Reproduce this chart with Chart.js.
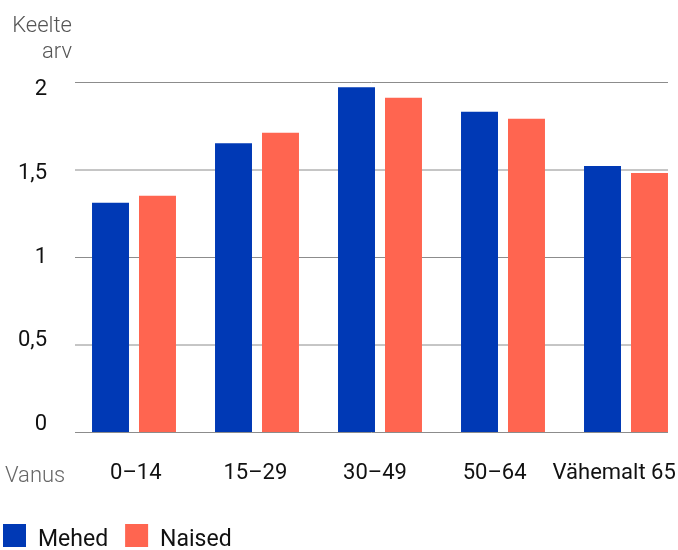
<!DOCTYPE html>
<html>
<head>
<meta charset="utf-8">
<script src="https://cdn.jsdelivr.net/npm/chart.js@4/dist/chart.umd.min.js"></script>
<style>html,body{margin:0;padding:0;background:#fff;overflow:hidden}canvas{display:block}</style>
</head>
<body>
<canvas id="c" width="678" height="550"></canvas>
<script>
// ---- data ----
const categories = ['0–14', '15–29', '30–49', '50–64', 'Vähemalt 65'];
const mehed = [1.31, 1.65, 1.97, 1.83, 1.52];
const naised = [1.35, 1.71, 1.91, 1.79, 1.48];
const yTickValues = [0, 0.5, 1, 1.5, 2];
const yTickLabels = ['0', '0,5', '1', '1,5', '2'];
const seriesNames = ['Mehed', 'Naised'];
const yTitle = ['Keelte', 'arv'];
const xTitle = 'Vanus';

const FONT = 'Roboto, "Open Sans", sans-serif';

const gridPlugin = {
  id: 'customGrid',
  beforeDatasetsDraw(chart) {
    const { ctx, chartArea, scales } = chart;
    const y = scales.y;
    ctx.save();
    ctx.strokeStyle = '#8c8c8c';
    ctx.lineWidth = 1;
    yTickValues.forEach(v => {
      const py = y.getPixelForValue(v) + 0.5;
      ctx.beginPath();
      ctx.moveTo(chartArea.left - 59, py);
      ctx.lineTo(chartArea.right + 42, py);
      ctx.stroke();
    });
    ctx.restore();
  }
};

const textPlugin = {
  id: 'customText',
  afterDraw(chart) {
    const ctx = chart.ctx;
    ctx.save();
    ctx.textBaseline = 'alphabetic';
    ctx.font = '300 22px ' + FONT;
    ctx.fillStyle = '#555555';
    ctx.textAlign = 'right';
    ctx.fillText(yTitle[0], 72, 32);
    ctx.fillText(yTitle[1], 72, 58);
    ctx.textAlign = 'left';
    ctx.fillStyle = '#666666';
    ctx.fillText(xTitle, 5, 482);
    // legend
    let x = 3;
    ctx.font = '400 23px ' + FONT;
    chart.data.datasets.forEach(ds => {
      ctx.fillStyle = ds.backgroundColor;
      ctx.fillRect(x, 524, 23, 23);
      x += 23 + 12;
      ctx.fillStyle = '#111111';
      ctx.fillText(ds.label, x, 546);
      x += ctx.measureText(ds.label).width + 17;
    });
    ctx.restore();
  }
};

new Chart(document.getElementById('c'), {
  type: 'bar',
  data: {
    labels: categories,
    datasets: [
      { label: seriesNames[0], data: mehed, backgroundColor: '#0039b5', xAxisID: 'x', yAxisID: 'y',
        categoryPercentage: 0.764, barPercentage: 0.787, clip: false },
      { label: seriesNames[1], data: naised, backgroundColor: '#ff6550', xAxisID: 'x', yAxisID: 'y',
        categoryPercentage: 0.764, barPercentage: 0.787, clip: false }
    ]
  },
  options: {
    responsive: false,
    animation: false,
    devicePixelRatio: 1,
    layout: { padding: { left: 0, right: 52, top: 82, bottom: 58 } },
    plugins: { legend: { display: false }, tooltip: { enabled: false } },
    scales: {
      x: { type: 'category', offset: false, grid: { offset: false }, display: false },
      y: { type: 'linear', min: 0, max: 2, display: false },
      x2: {
        type: 'linear', position: 'bottom', min: -0.015, max: 4.0987,
        offset: false,
        grid: { display: false, drawTicks: false, offset: false }, border: { display: false },
        afterBuildTicks: s => { s.ticks = categories.map((c, i) => ({ value: i })); },
        afterFit: s => { s.height = 60; s.paddingLeft = 0; s.paddingRight = 0; },
        ticks: {
          padding: 28, maxRotation: 0, minRotation: 0, autoSkip: false,
          font: { family: FONT, size: 22 }, color: '#111111',
          callback: (v, i) => categories[i]
        }
      },
      y2: {
        type: 'linear', position: 'left', min: -0.0436, max: 2.046,
        offset: false,
        grid: { display: false, drawTicks: false }, border: { display: false },
        afterBuildTicks: s => { s.ticks = yTickValues.map(v => ({ value: v })); },
        afterFit: s => { s.width = 134; s.paddingTop = 0; s.paddingBottom = 0; },
        ticks: {
          padding: 87,
          font: { family: FONT, size: 22 }, color: '#111111',
          callback: (v, i) => yTickLabels[i]
        }
      }
    }
  },
  plugins: [gridPlugin, textPlugin]
});
</script>
</body>
</html>
